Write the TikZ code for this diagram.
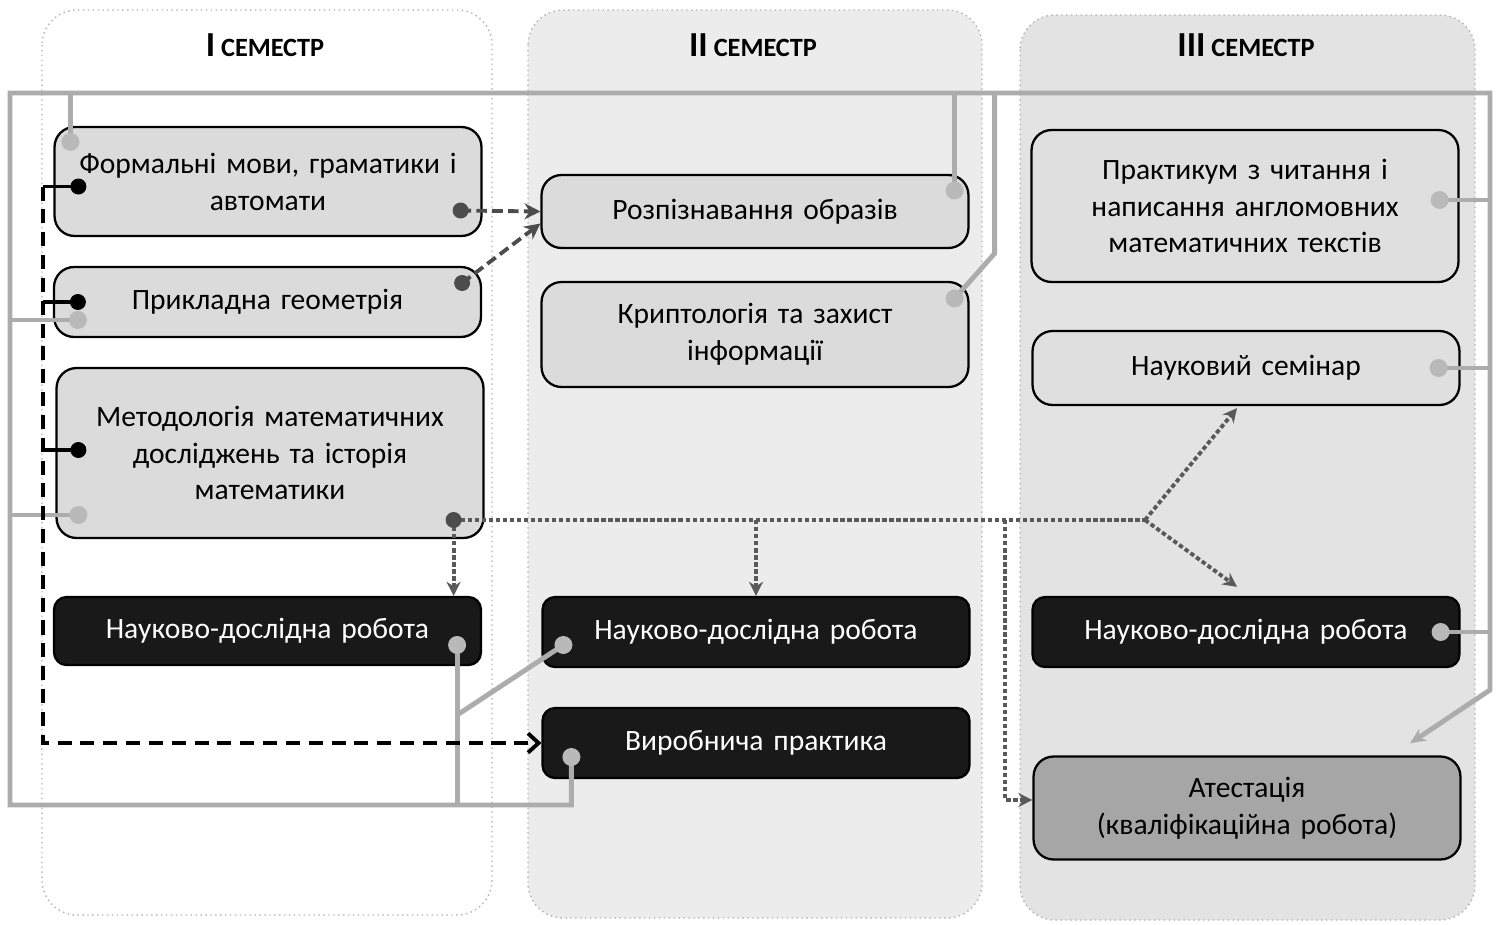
\documentclass[tikz,border=0pt]{standalone}
\usepackage{fontspec}
\setmainfont{Carlito}[WordSpace=0.75]
\usetikzlibrary{arrows.meta, calc}

\newcommand{\semword}{{\fontsize{15}{18}\selectfont СЕМЕСТР}}

\begin{document}
\begin{tikzpicture}[
    x=0.02cm, y=-0.02cm,
    >=Stealth,
    semcol/.style={draw=gray!60, dotted, line width=0.8pt, rounded corners=0.7cm},
    semhead/.style={font=\bfseries\fontsize{20}{24}\selectfont},
    subj/.style={draw, line width=1.3pt, rounded corners=0.4cm, fill=gray!28,
                 minimum width=8.54cm, text width=8.2cm, align=center,
                 font=\fontsize{16.8}{21}\selectfont},
    work/.style={subj, fill=black!90, text=white, rounded corners=0.25cm},
    final/.style={subj, fill=gray!70},
    bus/.style={draw=gray!65, line width=2.8pt},
    stub/.style={draw=black, line width=2.2pt},
    dashrail/.style={stub, dash pattern=on 8pt off 5pt},
    link/.style={draw=black!70, line width=2.2pt, dash pattern=on 6pt off 3pt},
    flow/.style={draw=black!65, line width=2.2pt, dash pattern=on 2.5pt off 1.5pt}
  ]
  \useasboundingbox (0,0) rectangle (1498,924);

  \path[semcol, fill=white] (42,10) rectangle (492,915);
  \path[semcol, fill=gray!15] (528,10) rectangle (982,918);
  \path[semcol, fill=gray!22] (1020,15) rectangle (1475,920);
  \node[semhead] (headA) at (265,45) {I \semword};
  \node[semhead] (headB) at (753,45) {II \semword};
  \node[semhead] (headC) at (1246,45) {III \semword};

  \node[subj, minimum height=2.18cm] (form) at (268,181.5)
    {Формальні мови, граматики і\\автомати};
  \node[subj, minimum height=1.4cm] (geom) at (267.5,302) {Прикладна геометрія};
  \node[subj, minimum height=3.4cm] (metod) at (270,453)
    {Методологія математичних\\досліджень та історія\\математики};
  \node[work, minimum height=1.36cm] (ndrA) at (267.5,631) {Науково-дослідна робота};

  \node[subj, minimum height=1.46cm] (rozp) at (755,211.5) {Розпізнавання образів};
  \node[subj, minimum height=2.1cm] (krypt) at (755,334.5)
    {Криптологія та захист\\інформації};
  \node[work, minimum height=1.4cm] (ndrB) at (756,632) {Науково-дослідна робота};
  \node[work, minimum height=1.4cm] (vyrob) at (756,743) {Виробнича практика};

  \node[subj, minimum height=3.04cm, fill=gray!25] (prakt) at (1245,206)
    {Практикум з читання і\\написання англомовних\\математичних текстів};
  \node[subj, minimum height=1.48cm, fill=gray!25] (semin) at (1246,368) {Науковий семінар};
  \node[work, minimum height=1.4cm] (ndrC) at (1246,632) {Науково-дослідна робота};
  \node[final, minimum height=2.06cm] (atest) at (1247,808)
    {Атестація\\(кваліфікаційна робота)};

  \coordinate (formG) at ($(form.north west)+(17,16)$);
  \coordinate (formB) at ($(form.west)+(25,5)$);
  \coordinate (formD) at ($(form.east)+(-22,29)$);
  \coordinate (geomG) at ($(geom.west)+(25,18)$);
  \coordinate (geomB) at ($(geom.west)+(25,0)$);
  \coordinate (geomD) at ($(geom.east)+(-20,-19)$);
  \coordinate (metodG) at ($(metod.west)+(23,62)$);
  \coordinate (metodB) at ($(metod.west)+(23,-3)$);
  \coordinate (metodD) at ($(metod.east)+(-31,67)$);
  \coordinate (ndrAG) at ($(ndrA.east)+(-25,14)$);
  \coordinate (ndrBG) at ($(ndrB.west)+(22,13)$);
  \coordinate (vyrobG) at ($(vyrob.west)+(30,14)$);
  \coordinate (rozpG) at ($(rozp.east)+(-15,-21)$);
  \coordinate (kryptG) at ($(krypt.east)+(-15,-36)$);
  \coordinate (praktG) at ($(prakt.east)+(-20,-6)$);
  \coordinate (seminG) at ($(semin.east)+(-22,0)$);
  \coordinate (ndrCG) at ($(ndrC.east)+(-20,0)$);

  \coordinate (busNW) at (10,93);
  \coordinate (busNE) at (1490,93);
  \coordinate (busSW) at (10,805);
  \coordinate (railx) at (43,0);
  \coordinate (dropx) at (1005,0);
  \coordinate (fork) at (1145,520);

  \draw[bus, -{Stealth[length=9pt, width=8pt]}] (vyrobG) |- (busSW) |- (busNE)
    -- ($(busNE)+(0,597)$) -- ($(atest.north)+(163,-12)$);
  \draw[bus] (formG) -- (formG |- busNW);
  \draw[bus] (geomG) -- (geomG -| busNW);
  \draw[bus] (metodG) -- (metodG -| busNW);
  \draw[bus] (rozpG) -- (rozpG |- busNW);
  \coordinate (kryptK) at ($(kryptG)+(40,-45)$);
  \draw[bus] (kryptG) -- (kryptK) -- (kryptK |- busNE);
  \draw[bus] (praktG) -- (praktG -| busNE);
  \draw[bus] (seminG) -- (seminG -| busNE);
  \draw[bus] (ndrCG) -- (ndrCG -| busNE);
  \draw[bus] (ndrAG) -- (ndrAG |- busSW);
  \draw[bus] ($(ndrAG)+(0,70)$) -- (ndrBG);

  \draw[stub] (formB) -- (formB -| railx);
  \draw[stub] (geomB) -- (geomB -| railx);
  \draw[stub] (metodB) -- (metodB -| railx);
  \draw[dashrail, -{Straight Barb[length=6pt, width=11pt]}] (formB -| railx) |- (vyrob.west);

  \draw[link, -{Stealth[length=9pt, width=9pt]}] (formD) -- (rozp.west);
  \draw[link, -{Stealth[length=9pt, width=9pt]}] (geomD) -- ($(rozp.west)+(0,12)$);

  \draw[flow] (metodD) -- (fork);
  \draw[flow, -{Stealth[length=8pt, width=8pt]}] (metodD) -- (metodD |- ndrA.north);
  \draw[flow, -{Stealth[length=8pt, width=8pt]}] (metodD -| ndrB.north) -- (ndrB.north);
  \draw[flow, -{Stealth[length=8pt, width=8pt]}] (metodD -| dropx) |- ($(atest.west)+(0,-8)$);
  \draw[flow, -{Stealth[length=8pt, width=8pt]}] (fork) -- ($(semin.south)+(-9,2)$);
  \draw[flow, -{Stealth[length=8pt, width=8pt]}] (fork) -- ($(ndrC.north)+(-9,-9)$);

  \foreach \p in {formG, geomG, metodG, ndrAG, ndrBG, vyrobG, rozpG, kryptG, praktG, seminG, ndrCG}
    \fill[gray!55] (\p) circle[radius=0.18cm];
  \foreach \p in {formB, geomB, metodB}
    \fill[black] (\p) circle[radius=0.16cm];
  \foreach \p in {formD, geomD, metodD}
    \fill[black!70] (\p) circle[radius=0.16cm];
\end{tikzpicture}
\end{document}
